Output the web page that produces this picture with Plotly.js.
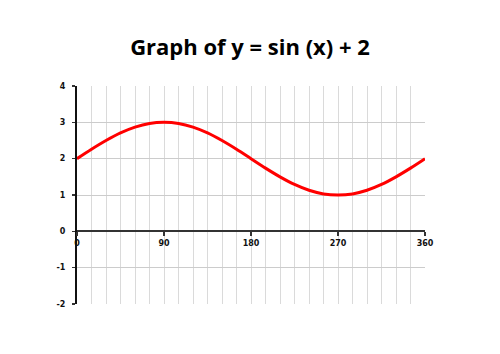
<!DOCTYPE html>
<html><head><meta charset="utf-8">
<script src="https://cdn.plot.ly/plotly-3.0.1.min.js"></script>
<style>html,body{margin:0;padding:0;background:#fff}#c{width:500px;height:354px}</style>
</head><body><div id="c"></div>
<script>
const xDeg = [0,15,30,45,60,75,90,105,120,135,150,165,180,195,210,225,240,255,270,285,300,315,330,345,360];
const yVal = [2,2.26,2.5,2.71,2.87,2.97,3,2.97,2.87,2.71,2.5,2.26,2,1.74,1.5,1.29,1.13,1.03,1,1.03,1.13,1.29,1.5,1.74,2];
const xTicks = [0,90,180,270,360];
const yTicks = [-2,-1,0,1,2,3,4];
const titleText = 'Graph of y = sin (x) + 2';

const tickFont = {family:'DejaVu Sans', size:8, color:'#111', weight:'bold'};
Plotly.newPlot('c', [{
  x: xDeg, y: yVal, type:'scatter', mode:'lines', xaxis:'x', yaxis:'y',
  line:{color:'#ff0000', width:3, shape:'spline'}, hoverinfo:'skip'
},{
  x: xTicks, y: xTicks.map(()=>0), type:'scatter', mode:'lines', xaxis:'x2', yaxis:'y',
  line:{color:'rgba(0,0,0,0)', width:0}, hoverinfo:'skip'
}], {
  width:500, height:354,
  margin:{l:77, r:75, t:86, b:50, pad:0},
  paper_bgcolor:'#fff', plot_bgcolor:'#fff',
  showlegend:false,
  title:{text:'<b>'+titleText+'</b>', x:0.5, xanchor:'center', y:0.865, yanchor:'middle',
    font:{family:'Open Sans', size:22, color:'#000', weight:800}},
  xaxis:{range:[0,360], tick0:0, dtick:15, showticklabels:false, ticks:'', ticklen:0, tickcolor:'rgba(0,0,0,0)',
    showline:false, showgrid:true, gridcolor:'#dadada', gridwidth:1,
    zeroline:false, fixedrange:true},
  xaxis2:{range:[0,360], overlaying:'x', anchor:'free', position:1/3, side:'bottom',
    tickvals:xTicks, ticktext:xTicks.map(String), ticks:'outside', ticklen:4, tickwidth:1.5, tickcolor:'#333',
    showline:true, linecolor:'#333', linewidth:2, showgrid:false, zeroline:false,
    tickfont:tickFont, fixedrange:true},
  yaxis:{range:[-2,4], tickvals:yTicks, ticktext:yTicks.map(String), ticks:'outside', ticklen:3, tickwidth:1.5, tickcolor:'#333',
    ticklabelstandoff:5,
    showline:true, linecolor:'#111', linewidth:2,
    showgrid:true, gridcolor:'#cccccc', gridwidth:1,
    zeroline:false, tickfont:tickFont, fixedrange:true}
}, {staticPlot:true, displayModeBar:false});
</script></body></html>
